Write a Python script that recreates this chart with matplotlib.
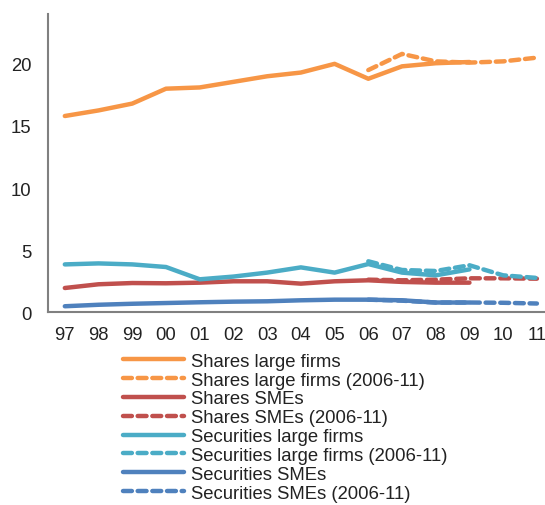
import matplotlib
matplotlib.use("Agg")
import matplotlib.pyplot as plt

plt.rcParams["font.family"] = ["Liberation Sans", "DejaVu Sans"]

years = ["97", "98", "99", "00", "01", "02", "03", "04", "05", "06", "07", "08", "09", "10", "11"]

# Series covering 1997-2009
shares_large = [15.8, 16.25, 16.8, 18.0, 18.1, 18.55, 19.0, 19.3, 20.0, 18.8, 19.8, 20.05, 20.15]
shares_sme = [1.95, 2.25, 2.35, 2.33, 2.38, 2.49, 2.49, 2.3, 2.49, 2.57, 2.44, 2.38, 2.38]
sec_large = [3.85, 3.93, 3.85, 3.64, 2.65, 2.87, 3.19, 3.61, 3.19, 3.88, 3.19, 2.97, 3.45]
sec_sme = [0.48, 0.6, 0.68, 0.74, 0.8, 0.85, 0.88, 0.96, 1.01, 1.01, 0.96, 0.78, 0.78]

# Series covering 2006-2011
shares_large_0611 = [19.5, 20.8, 20.2, 20.1, 20.2, 20.5]
shares_sme_0611 = [2.62, 2.57, 2.62, 2.73, 2.73, 2.7]
sec_large_0611 = [4.1, 3.4, 3.32, 3.78, 2.97, 2.76]
sec_sme_0611 = [1.01, 0.93, 0.78, 0.78, 0.76, 0.7]

labels = [
    "Shares large firms", "Shares large firms (2006-11)",
    "Shares SMEs", "Shares SMEs (2006-11)",
    "Securities large firms", "Securities large firms (2006-11)",
    "Securities SMEs", "Securities SMEs (2006-11)",
]

colors = ["#F79646", "#C0504D", "#4BACC6", "#4F81BD"]

fig = plt.figure(figsize=(5.45, 5.06), dpi=100)
ax = fig.add_axes([0.088, 0.381, 0.912, 0.589])

x_full = list(range(len(shares_large)))
x_late = list(range(9, 9 + len(shares_large_0611)))

lw = 3.2
handles = []
pairs = [
    (shares_large, shares_large_0611),
    (shares_sme, shares_sme_0611),
    (sec_large, sec_large_0611),
    (sec_sme, sec_sme_0611),
]
for (full, late), c in zip(pairs, colors):
    h1, = ax.plot(x_full, full, color=c, lw=lw, solid_capstyle="round")
    h2, = ax.plot(x_late, late, color=c, lw=lw, ls=(0, (2.0, 1.3)),
                  dash_capstyle="round")
    handles += [h1, h2]

ax.set_xlim(-0.5, 14.24)
ax.set_ylim(0, 24)
ax.set_yticks([0, 5, 10, 15, 20])
ax.set_xticks(range(len(years)))
ax.set_xticklabels(years)

for s in ["top", "right"]:
    ax.spines[s].set_visible(False)
for s in ["left", "bottom"]:
    ax.spines[s].set_color("#808080")
    ax.spines[s].set_linewidth(1.5)

ax.tick_params(axis="both", length=0, labelsize=13.3, colors="#222222")
ax.tick_params(axis="y", pad=12)
ax.tick_params(axis="x", pad=10)

fig.legend(handles, labels, loc="upper left", bbox_to_anchor=(0.226, 0.301),
           frameon=False, fontsize=13.3, handlelength=3.3, handletextpad=0.35,
           labelspacing=0.1, borderpad=0, borderaxespad=0,
           labelcolor="#222222")

fig.savefig("out.png", dpi=100)
